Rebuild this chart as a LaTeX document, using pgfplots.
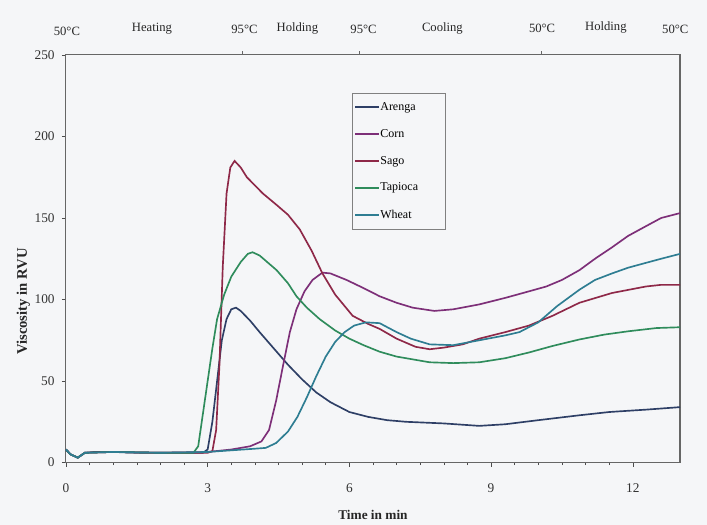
\documentclass[border=0pt]{standalone}
\usepackage{fontspec}
\setmainfont{Liberation Serif}
\usepackage{pgfplots}
\pgfplotsset{compat=1.18}
\definecolor{bgcol}{HTML}{F5F6F8}
\definecolor{arenga}{HTML}{2E3F66}
\definecolor{corn}{HTML}{7D2F78}
\definecolor{sago}{HTML}{8E2848}
\definecolor{tapioca}{HTML}{2F8C5C}
\definecolor{wheat}{HTML}{2E7D92}

\begin{document}
\begin{tikzpicture}
\fill[bgcol] (-49.5pt,-46.5pt) rectangle (481.25pt,347.25pt);
\useasboundingbox (-49.5pt,-46.5pt) rectangle (481.25pt,347.25pt);
\begin{axis}[
  at={(0,0)}, anchor=south west,
  scale only axis,
  width=461pt, height=306pt,
  xmin=0, xmax=13, ymin=0, ymax=250,
  xtick={0,3,6,9,12},
  ytick={0,50,100,150,200,250},
  minor x tick num=5,
  tick align=outside,
  xtick pos=bottom, ytick pos=left,
  major tick length=3pt, minor tick length=2pt,
  tick style={black!70, thin},
  axis line style={black!60, line width=0.8pt},
  ticklabel style={font=\fontsize{10}{12}\selectfont, black!80},
  /pgf/number format/assume math mode=true,
  xticklabel style={yshift=-9pt},
  yticklabel style={xshift=-2pt},
  xlabel={\textbf{Time in min}},
  ylabel={\textbf{Viscosity in RVU}},
  label style={font=\fontsize{10}{12}\selectfont, black!85},
  xlabel style={at={(axis description cs:0.5,0)}, anchor=center, yshift=-39pt},
  ylabel style={at={(axis description cs:0,0.395)}, anchor=center, yshift=32pt,
    font=\fontsize{11}{13}\selectfont},
  clip=false,
  legend style={at={(0.466,0.907)}, anchor=north west, draw=black!50, thin,
    fill=bgcol, font=\fontsize{9}{10}\selectfont, row sep=8.7pt,
    inner xsep=2pt, inner ysep=5pt,
    nodes={text width=46pt, align=left, inner xsep=1pt}},
  legend cell align=left,
  legend image code/.code={\fill[#1, draw=none] (0pt,-0.8pt) rectangle (18pt,0.8pt);},
  every axis plot/.append style={line width=1.25pt},
]
\addplot[arenga] coordinates {
(0,8) (0.1,5) (0.25,3) (0.4,6) (0.6,6.5) (1,6.5) (1.5,6) (2,6) (2.5,6) (2.9,6)
(3.0,8) (3.1,25) (3.2,50) (3.3,75) (3.4,88) (3.5,94) (3.6,95) (3.7,93) (3.9,87)
(4.1,80) (4.4,70) (4.7,60) (5.0,51) (5.3,43) (5.6,37) (6.0,31) (6.4,28) (6.8,26)
(7.2,25) (8,24) (8.75,22.5) (9.3,23.5) (10,26) (10.87,29) (11.5,31) (12.3,32.5) (13,34)};
\addlegendentry{Arenga}
\addplot[corn] coordinates {
(0,8) (0.1,5) (0.25,3) (0.4,6) (1,6.5) (2,6) (3,6.5) (3.5,8) (3.9,10) (4.14,13)
(4.3,20) (4.45,38) (4.6,60) (4.74,80) (4.88,94) (5.05,105) (5.22,112) (5.43,116.5)
(5.6,116) (5.94,112) (6.3,107) (6.64,102) (7.0,98) (7.34,95) (7.8,93) (8.2,94)
(8.75,97) (9.3,101) (9.8,105) (10.17,108) (10.5,112) (10.87,118) (11.2,125)
(11.56,132) (11.9,139) (12.28,145) (12.6,150) (13,153)};
\addlegendentry{Corn}
\addplot[sago] coordinates {
(0,8) (0.1,5) (0.25,3) (0.4,6) (1,6.5) (2,6) (3,6) (3.1,7) (3.18,20) (3.25,60)
(3.32,120) (3.4,165) (3.48,181) (3.57,185) (3.7,181) (3.83,175) (4.0,170)
(4.17,165) (4.46,158) (4.7,152) (4.95,143) (5.2,130) (5.43,116) (5.7,103)
(6.07,90) (6.4,85) (6.64,82) (7.0,76) (7.4,71) (7.7,69.5) (8.0,70.5) (8.4,72.5)
(8.75,76) (9.3,80) (9.8,84) (10.3,90) (10.87,98) (11.56,104) (12.28,108)
(12.6,109) (13,109)};
\addlegendentry{Sago}
\addplot[tapioca] coordinates {
(0,8) (0.1,5) (0.25,3) (0.4,6) (1,6.5) (2,6) (2.7,6) (2.8,10) (2.9,30) (3.0,50)
(3.1,70) (3.2,88) (3.35,103) (3.5,114) (3.7,123) (3.85,128) (3.95,129) (4.1,127)
(4.3,122) (4.46,118) (4.7,110) (4.88,102) (5.1,95) (5.37,88) (5.7,81) (6.0,76)
(6.3,72) (6.64,68) (7.0,65) (7.4,63) (7.7,61.5) (8.2,61) (8.75,61.5) (9.3,64)
(9.8,67.5) (10.3,71.5) (10.87,75.5) (11.4,78.5) (11.9,80.5) (12.5,82.5) (13,83)};
\addlegendentry{Tapioca}
\addplot[wheat] coordinates {
(0,8) (0.1,5) (0.25,3) (0.4,6) (1,6.5) (2,6) (3,6.5) (3.5,7.5) (4.0,8.5)
(4.23,9) (4.45,12) (4.7,19) (4.9,28) (5.1,40) (5.3,53) (5.5,65) (5.7,74)
(5.9,80) (6.1,84) (6.35,86) (6.64,85.5) (7.0,80) (7.3,76) (7.7,72.5) (8.2,72)
(8.75,75) (9.3,78) (9.6,80) (10.0,86) (10.4,96) (10.87,106) (11.2,112)
(11.56,116) (11.9,119.5) (12.28,122.5) (12.6,125) (13,128)};
\addlegendentry{Wheat}
% temperature programme along the top
\draw[black!60, thin] (axis cs:3.74,250) -- ++(0,3pt);
\draw[black!60, thin] (axis cs:6.2,250) -- ++(0,3pt);
\draw[black!60, thin] (axis cs:10.06,250) -- ++(0,3pt);
\begin{scope}[every node/.style={font=\fontsize{9.5}{11}\selectfont, black!85}]
\node at (axis cs:0.02,250) [yshift=18pt] {50\textdegree C};
\node at (axis cs:1.82,250) [yshift=20pt] {Heating};
\node at (axis cs:3.78,250) [yshift=19.5pt] {95\textdegree C};
\node at (axis cs:4.9,250) [yshift=20pt] {Holding};
\node at (axis cs:6.3,250) [yshift=19.5pt] {95\textdegree C};
\node at (axis cs:7.97,250) [yshift=20pt] {Cooling};
\node at (axis cs:10.08,250) [yshift=20pt] {50\textdegree C};
\node at (axis cs:11.43,250) [yshift=20.5pt] {Holding};
\node at (axis cs:12.9,250) [yshift=19.5pt] {50\textdegree C};
\end{scope}
\end{axis}
\end{tikzpicture}
\end{document}
